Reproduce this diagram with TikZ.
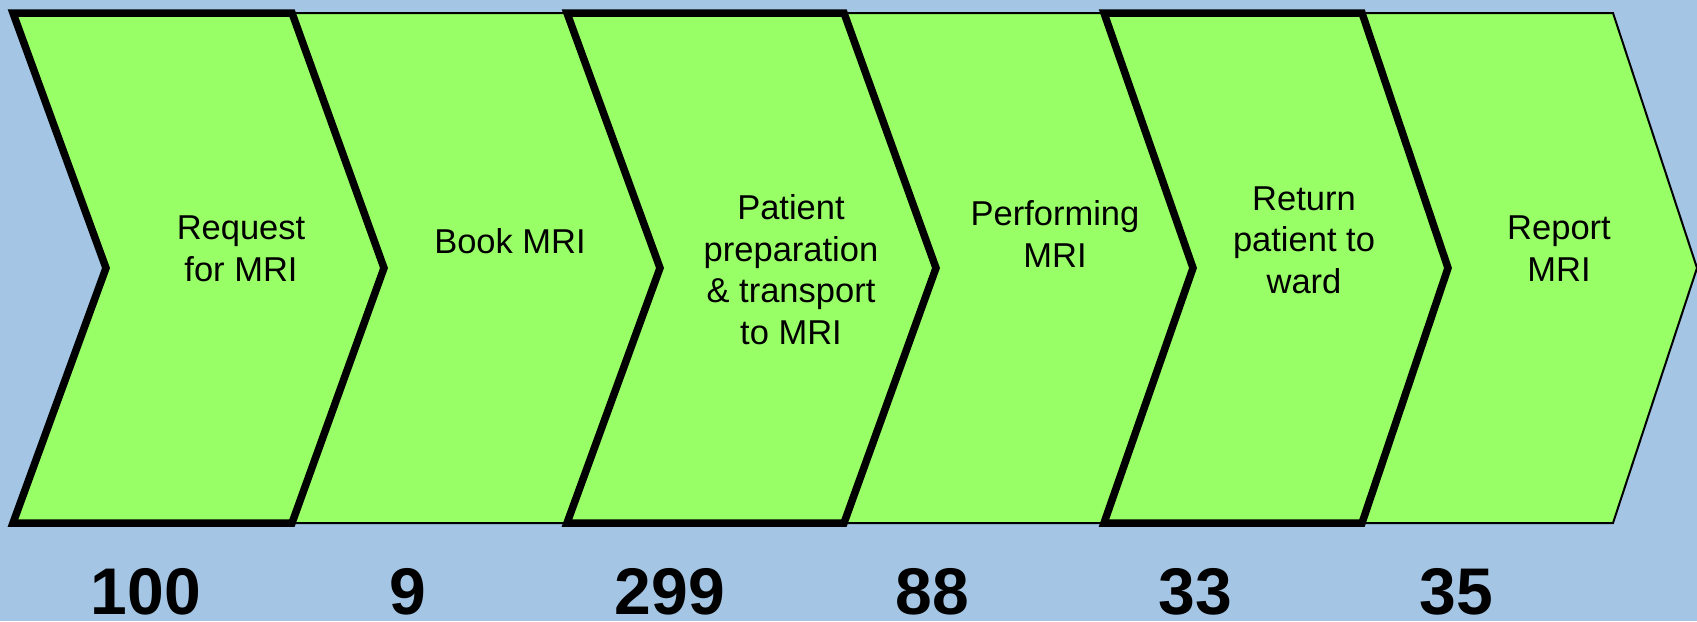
\documentclass[tikz,border=0pt]{standalone}
\usepackage{fontspec}
\setmainfont{Liberation Sans}
\definecolor{bgblue}{RGB}{164,198,228}
\definecolor{chevgreen}{RGB}{153,255,102}
\begin{document}
\begin{tikzpicture}[x=1pt,y=-1pt,
  thinchev/.style={fill=chevgreen,draw=black,line width=2pt,line join=miter},
  thickchev/.style={fill=chevgreen,draw=black,line width=7.5pt,line join=miter},
  lbl/.style={align=center,font=\fontsize{34.5}{41.5}\selectfont,inner sep=0pt,anchor=base},
  num/.style={font=\fontsize{66}{70}\selectfont\bfseries,inner sep=0pt,anchor=base}]
\fill[bgblue] (0,0) rectangle (1697,621);
\useasboundingbox (0,0) rectangle (1697,621);
% thin chevrons
\draw[thinchev] (292,13) -- (567,13) -- (660,268) -- (567,523) -- (292,523) -- (384,268) -- cycle;
\draw[thinchev] (844,13) -- (1104,13) -- (1193,268) -- (1104,523) -- (844,523) -- (936,268) -- cycle;
\draw[thinchev] (1362,13) -- (1613,13) -- (1697,268) -- (1613,523) -- (1362,523) -- (1448,268) -- cycle;
% thick chevrons
\draw[thickchev] (13,13) -- (292,13) -- (384,268) -- (292,523) -- (13,523) -- (106,268) -- cycle;
\draw[thickchev] (567,13) -- (844,13) -- (936,268) -- (844,523) -- (567,523) -- (660,268) -- cycle;
\draw[thickchev] (1104,13) -- (1362,13) -- (1448,268) -- (1362,523) -- (1104,523) -- (1193,268) -- cycle;
% labels (anchor = baseline of last line)
\node[lbl] (l1) at (241,281) {Request\\for MRI};
\node[lbl] (l2) at (510,253) {Book MRI};
\node[lbl] (l3) at (791,344) {Patient\\preparation\\\& transport\\to MRI};
\node[lbl] (l4) at (1055,267) {Performing\\MRI};
\node[lbl] (l5) at (1304,293) {Return\\patient to\\ward};
\node[lbl] (l6) at (1559,281) {Report\\MRI};
% numbers
\node[num] (n1) at (146,614) {100};
\node[num] (n2) at (408,614) {9};
\node[num] (n3) at (670,614) {299};
\node[num] (n4) at (932,614) {88};
\node[num] (n5) at (1195,614) {33};
\node[num] (n6) at (1456,614) {35};
\end{tikzpicture}
\end{document}
